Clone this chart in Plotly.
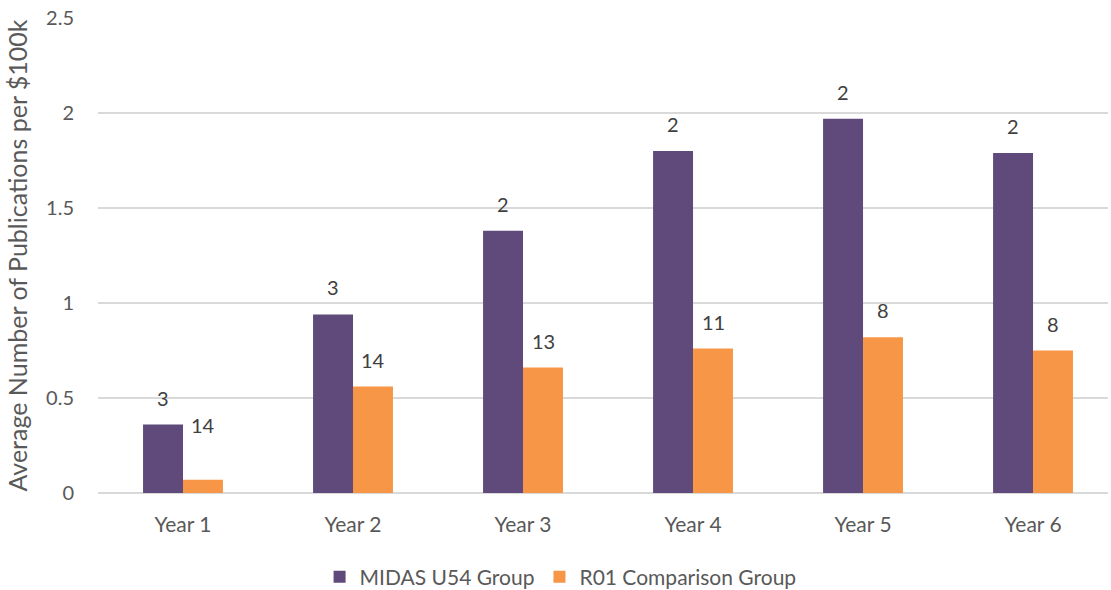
import plotly.graph_objects as go

categories = ["Year 1", "Year 2", "Year 3", "Year 4", "Year 5", "Year 6"]
midas_values = [0.36, 0.94, 1.38, 1.80, 1.97, 1.79]
r01_values = [0.07, 0.56, 0.66, 0.76, 0.82, 0.75]
midas_labels = ["3", "3", "2", "2", "2", "2"]
r01_labels = ["14", "14", "13", "11", "8", "8"]

PURPLE = "#5F4A7B"
ORANGE = "#F79646"
FONT = "Lato, Calibri, Carlito, sans-serif"

fig = go.Figure()
fig.add_trace(go.Bar(x=categories, y=midas_values, name="MIDAS U54 Group",
                     marker=dict(color=PURPLE, line=dict(width=0))))
fig.add_trace(go.Bar(x=categories, y=r01_values, name="R01 Comparison Group",
                     marker=dict(color=ORANGE, line=dict(width=0))))

annotations = []
for i, cat in enumerate(categories):
    annotations.append(dict(x=cat, y=midas_values[i], xref="x", yref="y",
                            text=midas_labels[i], showarrow=False, xshift=-20, yshift=27,
                            yanchor="middle", font=dict(size=20, color="#404040", family=FONT)))
    extra = 28 if i == 0 else 0
    annotations.append(dict(x=cat, y=r01_values[i], xref="x", yref="y",
                            text=r01_labels[i], showarrow=False, xshift=20, yshift=27 + extra,
                            yanchor="middle", font=dict(size=20, color="#404040", family=FONT)))

fig.update_layout(
    width=1111, height=590,
    margin=dict(l=98, r=3, t=18, b=97, autoexpand=False),
    paper_bgcolor="white", plot_bgcolor="white",
    barmode="group", bargap=0.53, bargroupgap=0,
    font=dict(family=FONT, color="#595959", size=20),
    annotations=annotations,
    showlegend=True,
    legend=dict(orientation="h", xref="paper", yref="paper",
                x=0.458, xanchor="center", y=-0.177, yanchor="middle",
                font=dict(size=21, color="#595959", family=FONT),
                itemwidth=30, traceorder="normal"),
    xaxis=dict(range=[-0.5, 5.441], showgrid=False, showline=False, ticks="",
               automargin=False, ticklabelstandoff=17,
               tickfont=dict(size=21, color="#595959")),
    yaxis=dict(range=[0, 2.5], dtick=0.5, tick0=0, showgrid=True, gridcolor="#D9D9D9",
               gridwidth=1.5, zeroline=True, zerolinecolor="#D9D9D9", zerolinewidth=1.5,
               showline=False, ticks="", tickfont=dict(size=20, color="#595959"),
               ticklabelstandoff=23, automargin=False,
               title=dict(text="Average Number of Publications per $100k",
                          font=dict(size=25, color="#595959", family=FONT), standoff=11)),
)

fig.write_html("out.html", config={"displayModeBar": False},
               post_script="document.body.style.margin='0';document.body.style.overflow='hidden';")
